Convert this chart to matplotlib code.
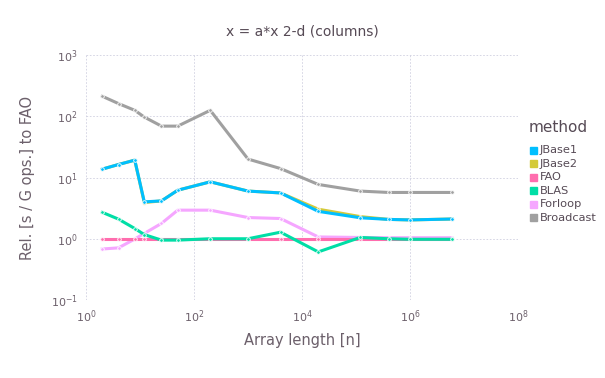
import numpy as np
import matplotlib
matplotlib.use('Agg')
import matplotlib.pyplot as plt

# array lengths
n = [2, 4, 8, 12, 25, 50, 200, 1000, 4000, 20000, 120000, 400000, 1000000, 6000000]

jbase1 = [13.7, 16.3, 19.2, 4.0, 4.15, 6.2, 8.5, 6.0, 5.6, 2.8, 2.2, 2.07, 2.03, 2.1]
jbase2 = [13.7, 16.3, 19.2, 3.9, 4.15, 6.2, 8.5, 6.0, 5.6, 3.04, 2.3, 2.07, 2.03, 2.1]
fao = [1.0] * 14
blas = [2.7, 2.09, 1.47, 1.17, 0.95, 0.95, 1.0, 1.0, 1.28, 0.61, 1.05, 1.0, 0.98, 0.98]
forloop = [0.68, 0.71, 0.99, 1.22, 1.78, 2.93, 2.93, 2.22, 2.14, 1.07, 1.05, 1.04, 1.04, 1.04]
broadcast = [212, 161, 125, 97, 69, 69, 125, 20, 14, 7.7, 6.0, 5.7, 5.7, 5.7]

names = ['JBase1', 'JBase2', 'FAO', 'BLAS', 'Forloop', 'Broadcast']
colors = ['#00BFFF', '#D4CA3A', '#FF6DAE', '#00DEA6', '#F5A6FF', '#A0A0A0']
series = [jbase1, jbase2, fao, blas, forloop, broadcast]

txt = '#564a55'
tick = '#6c606b'

fig = plt.figure(figsize=(6.05, 3.78), dpi=100)
ax = fig.add_axes([86/605, 1 - 300/378, (518-86)/605, (300-55)/378])

# draw order: last ones on top
order = [5, 4, 2, 3, 1, 0]
for i in order:
    ax.plot(n, series[i], color=colors[i], lw=2.2, marker='o', ms=2.6,
            mfc=colors[i], mec='white', mew=0.6, zorder=3 + order.index(i))

ax.set_xscale('log')
ax.set_yscale('log')
ax.set_xlim(1, 1e8)
ax.set_ylim(1e-1, 1e3)
ax.set_xticks([1, 1e2, 1e4, 1e6, 1e8])
ax.set_xticklabels([r'$10^{%d}$' % k for k in [0, 2, 4, 6, 8]])
ax.set_yticks([1e-1, 1, 1e1, 1e2, 1e3])
ax.set_yticklabels([r'$10^{%d}$' % k for k in [-1, 0, 1, 2, 3]])
ax.minorticks_off()
ax.tick_params(length=0, labelsize=8, labelcolor=tick, pad=6)
for s in ax.spines.values():
    s.set_visible(False)
ax.grid(True, color='#D0D0E0', lw=0.6, ls=(0, (2, 2)))
ax.set_axisbelow(True)

ax.set_title('x = a*x 2-d (columns)', fontsize=10, color=txt, pad=14)
ax.set_xlabel('Array length [n]', fontsize=10.5, color=tick, labelpad=6)
ax.set_ylabel('Rel. [s / G ops.] to FAO', fontsize=10.5, color=tick, labelpad=11)

# legend
fig.text(529/605, 1 - 127/378, 'method', fontsize=11, color=txt, va='center')
for k, name in enumerate(names):
    y = 150 + k * 13.6
    fig.patches.append(plt.Rectangle((530/605, 1 - (y + 3.5)/378), 7/605, 7/378,
                                     transform=fig.transFigure, color=colors[k]))
    fig.text(540/605, 1 - y/378, name, fontsize=8.2, color=txt, va='center')

fig.savefig('out.png', dpi=100)
